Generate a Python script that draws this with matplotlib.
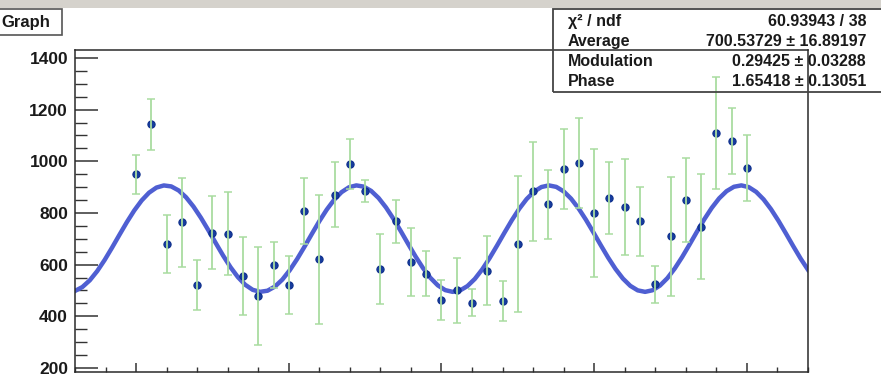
import numpy as np
import matplotlib
matplotlib.use("Agg")
import matplotlib.pyplot as plt
from matplotlib.patches import Rectangle
from matplotlib.ticker import MultipleLocator

plt.rcParams['font.family'] = ['Liberation Sans', 'DejaVu Sans']
plt.rcParams['font.weight'] = 'bold'

# measured counts per angular bin (41 bins, 0.5 rad apart)
angle = np.arange(41) * 0.5
counts = [949, 1143, 680, 763, 521, 724, 720, 556, 478, 599,
          521, 807, 620, 871, 989, 885, 583, 768, 610, 564,
          463, 500, 452, 577, 459, 680, 884, 833, 970, 993,
          800, 858, 822, 767, 523, 710, 850, 746, 1110, 1078,
          974]
errors = [77, 98, 113, 174, 97, 143, 160, 151, 190, 90,
          114, 129, 250, 127, 97, 43, 136, 84, 132, 87,
          78, 127, 53, 134, 78, 262, 192, 133, 154, 175,
          248, 139, 185, 133, 73, 231, 163, 203, 217, 128,
          126]

# fit result
chi2, ndf = 60.93943, 38
average, average_err = 700.53729, 16.89197
modulation, modulation_err = 0.29425, 0.03288
phase, phase_err = 1.65418, 0.13051
angle_offset = 0.70  # bin origin of the angle axis


def fit_curve(x):
    return average * (1 + modulation * np.cos(x + angle_offset - phase))


counts = np.array(counts, dtype=float)
errors = np.array(errors, dtype=float)

W, H = 881, 375
fig = plt.figure(figsize=(W / 100, H / 100), dpi=100)
fig.patch.set_facecolor('white')

# window strip along the top
fig.patches.append(Rectangle((0, 1 - 8 / H), 1, 8 / H, transform=fig.transFigure,
                             facecolor='#d5d2cc', edgecolor='none', zorder=0))

ax = fig.add_axes([75 / W, 3 / H, (808 - 75) / W, (372 - 50) / H])

# axis range with 10% margins like a TGraph
xspan = angle.max() - angle.min()
ax.set_xlim(angle.min() - 0.1 * xspan, angle.max() + 0.1 * xspan)
lo = (counts - errors).min()
hi = (counts + errors).max()
ax.set_ylim(lo - 0.1 * (hi - lo), hi + 0.1 * (hi - lo))

xc = np.linspace(*ax.get_xlim(), 100)
ax.plot(xc, fit_curve(xc), color='#4f5fd2', lw=3.2, zorder=2, solid_joinstyle='round')

ax.plot(angle, counts, 'o', ms=5.2, mfc='#163c9e', mec='#0e2f8c', mew=0.8, zorder=3)
ax.errorbar(angle, counts, yerr=errors, fmt='none', ecolor='#a9dca0',
            elinewidth=1.3, capsize=3, capthick=1.1, zorder=4)

ax.xaxis.set_major_locator(MultipleLocator(5))
ax.xaxis.set_minor_locator(MultipleLocator(1))
ax.yaxis.set_major_locator(MultipleLocator(200))
ax.yaxis.set_minor_locator(MultipleLocator(50))
ax.tick_params(axis='x', which='major', direction='in', length=6.5, width=1.1,
               color='#333333', labelbottom=False)
ax.tick_params(axis='x', which='minor', direction='in', length=3.6, width=1.0, color='#333333')
ax.tick_params(axis='y', which='major', direction='in', length=16.5, width=1.1,
               color='#333333', labelsize=12.5, labelcolor='#1a1a1a', pad=5)
ax.tick_params(axis='y', which='minor', direction='in', length=8.6, width=1.0, color='#333333')
for lab in ax.get_yticklabels():
    lab.set_fontweight('bold')
for sp in ax.spines.values():
    sp.set_color('#2a2a2a')
    sp.set_linewidth(1.1)

# title box
fig.patches.append(Rectangle((-5 / W, 1 - 35 / H), 67 / W, 26 / H, transform=fig.transFigure,
                             facecolor='white', edgecolor='#555555', lw=1.2, zorder=5))
fig.text(1 / W, 1 - 22 / H, 'Graph', fontsize=12, fontweight='bold', color='#1a1a1a',
         va='center', ha='left', zorder=6)

# statistics box
fig.patches.append(Rectangle((553 / W, 1 - 92 / H), 340 / W, 83 / H, transform=fig.transFigure,
                             facecolor='none', edgecolor='#444444', lw=1.3, zorder=5))
rows = [
    ('χ² / ndf', f'{chi2:.5f} / {ndf}'),
    ('Average', f'{average:.5f} ± {average_err:.5f}'),
    ('Modulation', f'{modulation:.5f} ± {modulation_err:.5f}'),
    ('Phase', f'{phase:.5f} ± {phase_err:.5f}'),
]
for i, (name, val) in enumerate(rows):
    yy = 1 - (21.5 + 20 * i) / H
    fig.text(568 / W, yy, name, fontsize=11.5, fontweight='bold', color='#1a1a1a',
             va='center', ha='left', zorder=6)
    fig.text(866 / W, yy, val, fontsize=11.5, fontweight='bold', color='#1a1a1a',
             va='center', ha='right', zorder=6)

fig.savefig('out.png', dpi=100)
